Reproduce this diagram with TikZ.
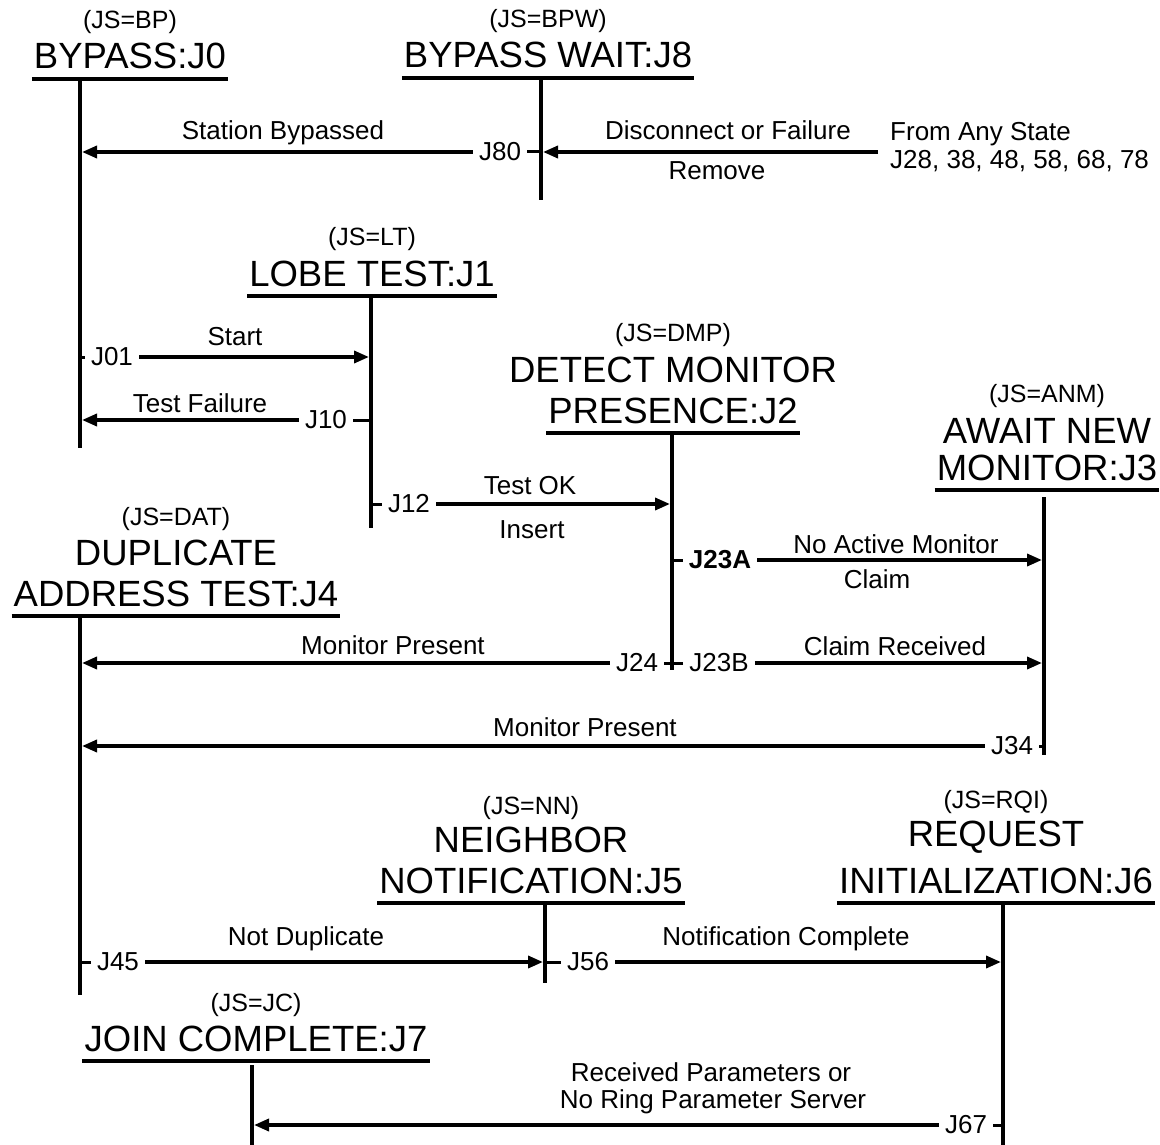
\documentclass[tikz,border=0pt]{standalone}
\usepackage{fontspec}
\setmainfont{Liberation Sans}
\usetikzlibrary{arrows.meta,positioning}

\begin{document}
\begin{tikzpicture}[x=1pt,y=-1pt,
  >={Triangle[length=15pt,width=12pt]},
  title/.style={font=\fontsize{36.5}{40}\selectfont,inner sep=0pt,anchor=base},
  jsname/.style={font=\fontsize{25}{28}\selectfont,inner sep=0pt},
  lbl/.style={font=\fontsize{26}{30}\selectfont,inner sep=0pt,anchor=base},
  jnum/.style={font=\fontsize{26}{30}\selectfont,inner sep=6pt},
  uline/.style={line width=4pt},
  life/.style={line width=3.5pt},
  tick/.style={line width=3pt},
  move/.style={line width=3.5pt,->,shorten >=2pt}]
  \useasboundingbox (0,0) rectangle (1160,1145);

  % states
  \node[title](bp) at (130,69){BYPASS:J0};
  \node[jsname,above=9pt of bp]{(JS=BP)};
  \node[title](bpw) at (548,68){BYPASS WAIT:J8};
  \node[jsname,above=9pt of bpw]{(JS=BPW)};
  \node[title](lt) at (372,286){LOBE TEST:J1};
  \node[jsname,above=9pt of lt]{(JS=LT)};
  \node[title](dmp) at (673,423){PRESENCE:J2};
  \node[title,above=14pt of dmp](dmp1){DETECT MONITOR};
  \node[jsname,above=10pt of dmp1]{(JS=DMP)};
  \node[title](anm) at (1047,480){MONITOR:J3};
  \node[title,above=11pt of anm](anm1){AWAIT NEW};
  \node[jsname,above=10pt of anm1]{(JS=ANM)};
  \node[title](dat) at (176,606){ADDRESS TEST:J4};
  \node[title,above=14pt of dat](dat1){DUPLICATE};
  \node[jsname,above=9pt of dat1]{(JS=DAT)};
  \node[title](nn) at (531,893){NOTIFICATION:J5};
  \node[title,above=14pt of nn](nn1){NEIGHBOR};
  \node[jsname,above=7pt of nn1]{(JS=NN)};
  \node[title](rqi) at (996,893){INITIALIZATION:J6};
  \node[title,above=14pt of rqi](rqi1){REQUEST};
  \node[jsname,above=7pt of rqi1]{(JS=RQI)};
  \node[title](jc) at (256,1051){JOIN COMPLETE:J7};
  \node[jsname,above=8pt of jc]{(JS=JC)};

  % underlines
  \foreach \s in {bp,bpw,lt,dmp,anm,dat,nn,rqi,jc}
    \draw[uline]([yshift=-10pt,xshift=-2pt]\s.base west)--([yshift=-10pt,xshift=2pt]\s.base east);

  % lifelines
  \coordinate(l0t) at (80,78);    \coordinate(l0b) at (80,448);
  \coordinate(l8t) at (541,78);   \coordinate(l8b) at (541,200);
  \coordinate(l1t) at (371,296);  \coordinate(l1b) at (371,528);
  \coordinate(l2t) at (672,433);  \coordinate(l2b) at (672,670);
  \coordinate(l3t) at (1044,497); \coordinate(l3b) at (1044,755);
  \coordinate(l4t) at (80,617);   \coordinate(l4b) at (80,995);
  \coordinate(l5t) at (545,904);  \coordinate(l5b) at (545,983);
  \coordinate(l6t) at (1003,903); \coordinate(l6b) at (1003,1145);
  \coordinate(l7t) at (252,1065); \coordinate(l7b) at (252,1145);
  \foreach \l in {0,...,8}
    \draw[life](l\l t)--(l\l b);

  % J80
  \node[lbl](anyst) at (890,141)[anchor=base west]{From Any State};
  \node[lbl](anylist) at (890,168)[anchor=base west]{J28, 38, 48, 58, 68, 78};
  \node[jnum](j80) at (500,152){J80};
  \draw[tick](j80)--(j80 -| l8t);
  \draw[move](j80)--(j80 -| l0t);
  \draw[move]([xshift=-12pt]anyst.west |- j80)--(j80 -| l8t);
  \node[lbl](sb) at (283,140){Station Bypassed};
  \node[lbl](dof) at (728,140){Disconnect or Failure};
  \node[lbl](rem) at (717,180){Remove};

  % J01, J10, J12
  \node[jnum](j01) at (112,357){J01};
  \draw[tick](j01)--(j01 -| l0t);
  \draw[move](j01)--(j01 -| l1t);
  \node[lbl](start) at (235,345){Start};
  \node[jnum](j10) at (326,420){J10};
  \draw[tick](j10)--(j10 -| l1t);
  \draw[move](j10)--(j10 -| l0t);
  \node[lbl](tf) at (200,412){Test Failure};
  \node[jnum](j12) at (409,504){J12};
  \draw[tick](j12)--(j12 -| l1t);
  \draw[move](j12)--(j12 -| l2t);
  \node[lbl](tok) at (530,494){Test OK};
  \node[lbl](ins) at (532,538){Insert};

  % J23A, J23B, J24, J34
  \node[jnum](j23a) at (720,560){\textbf{J23A}};
  \draw[tick](j23a)--(j23a -| l2t);
  \draw[move](j23a)--(j23a -| l3t);
  \node[lbl](nam) at (896,553){No Active Monitor};
  \node[lbl](clm) at (877,588){Claim};
  \node[jnum](j24) at (637,663){J24};
  \draw[tick](j24)--(j24 -| l2t);
  \draw[move](j24)--(j24 -| l4t);
  \node[lbl](mp1) at (393,654){Monitor Present};
  \node[jnum](j23b) at (719,663){J23B};
  \draw[tick](j23b)--(j23b -| l2t);
  \draw[move](j23b)--(j23b -| l3t);
  \node[lbl](crc) at (895,655){Claim Received};
  \node[jnum](j34) at (1012,746){J34};
  \draw[tick](j34)--(j34 -| l3t);
  \draw[move](j34)--(j34 -| l4t);
  \node[lbl](mp2) at (585,736){Monitor Present};

  % J45, J56, J67
  \node[jnum](j45) at (118,962){J45};
  \draw[tick](j45)--(j45 -| l4t);
  \draw[move](j45)--(j45 -| l5t);
  \node[lbl](nd) at (306,945){Not Duplicate};
  \node[jnum](j56) at (588,962){J56};
  \draw[tick](j56)--(j56 -| l5t);
  \draw[move](j56)--(j56 -| l6t);
  \node[lbl](nc) at (786,945){Notification Complete};
  \node[jnum](j67) at (966,1125){J67};
  \draw[tick](j67)--(j67 -| l6t);
  \draw[move](j67)--(j67 -| l7t);
  \node[lbl](rp) at (711,1081){Received Parameters or};
  \node[lbl](nrp) at (713,1108){No Ring Parameter Server};
\end{tikzpicture}
\end{document}
